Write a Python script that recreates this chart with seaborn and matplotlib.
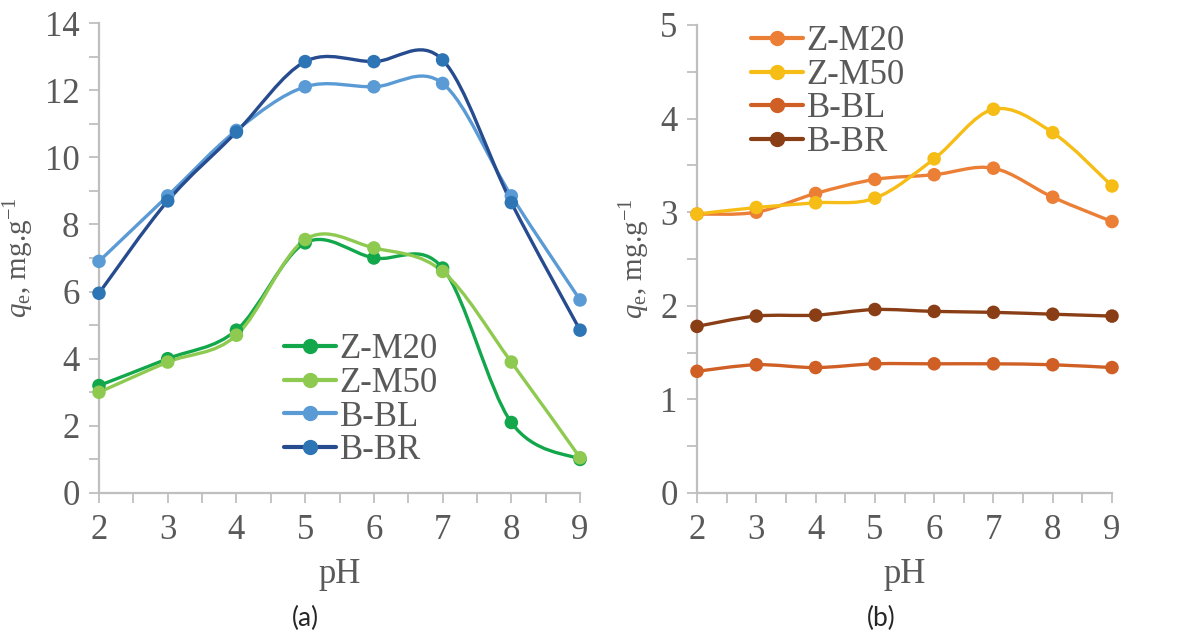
import numpy as np
import pandas as pd
import seaborn as sns
import matplotlib
matplotlib.use("Agg")
import matplotlib.pyplot as plt
from matplotlib.path import Path
from matplotlib.patches import PathPatch
from matplotlib.lines import Line2D
from matplotlib.ticker import MultipleLocator

# ---------------- data ----------------
ph = [2, 3, 4, 5, 6, 7, 8, 9]
series_names = ["Z-M20", "Z-M50", "B-BL", "B-BR"]

a_zm20 = [3.2, 4.0, 4.85, 7.45, 7.0, 6.7, 2.1, 1.0]
a_zm50 = [3.0, 3.9, 4.7, 7.55, 7.3, 6.6, 3.9, 1.05]
a_bbl = [6.9, 8.85, 10.8, 12.1, 12.1, 12.2, 8.85, 5.75]
a_bbr = [5.95, 8.7, 10.75, 12.85, 12.85, 12.9, 8.65, 4.85]

b_zm20 = [2.98, 3.0, 3.2, 3.35, 3.4, 3.47, 3.16, 2.9]
b_zm50 = [2.98, 3.05, 3.1, 3.15, 3.57, 4.1, 3.85, 3.28]
b_bbl = [1.3, 1.37, 1.34, 1.38, 1.38, 1.38, 1.37, 1.34]
b_bbr = [1.78, 1.89, 1.9, 1.96, 1.94, 1.93, 1.91, 1.89]

# line colour, marker colour
a_colors = [("#13a74b", "#13a74b"), ("#8fca50", "#8fca50"),
            ("#5b9bd5", "#5b9bd5"), ("#264b8f", "#2e75b6")]
b_colors = [("#eb7f36", "#eb7f36"), ("#f6bd16", "#f6bd16"),
            ("#cf5f25", "#cf5f25"), ("#8a3e15", "#8a3e15")]

sns.set_theme(style="white")
plt.rcParams["font.family"] = ["Liberation Serif", "DejaVu Serif"]
plt.rcParams["mathtext.fontset"] = "custom"
plt.rcParams["mathtext.rm"] = "Liberation Serif"
plt.rcParams["mathtext.it"] = "Liberation Serif:italic"

GRAY = "#595959"
SPINE = "#bfbfbf"
FS = 25


def smooth_path(xs, ys):
    P = np.column_stack([xs, ys]).astype(float)
    n = len(P)
    verts = [P[0]]
    codes = [Path.MOVETO]
    for i in range(n - 1):
        p0 = P[i - 1] if i > 0 else P[i]
        p1 = P[i]
        p2 = P[i + 1]
        p3 = P[i + 2] if i + 2 < n else P[i + 1]
        c1 = p1 + (p2 - p0) / 6.0
        c2 = p2 - (p3 - p1) / 6.0
        verts += [c1, c2, p2]
        codes += [Path.CURVE4] * 3
    return Path(verts, codes)


def panel(ax, data_lists, colors, ymax, ymajor, yminor, legend_anchor):
    df = pd.DataFrame({
        "pH": ph * len(series_names),
        "q": np.concatenate(data_lists),
        "series": np.repeat(series_names, len(ph)),
    })
    for name, vals, (lc, mc) in zip(series_names, data_lists, colors):
        patch = PathPatch(smooth_path(ph, vals), facecolor="none",
                          edgecolor=lc, lw=2.4, zorder=2, capstyle="round")
        ax.add_patch(patch)
    sns.scatterplot(data=df, x="pH", y="q", hue="series",
                    palette={n: c[1] for n, c in zip(series_names, colors)},
                    s=95, edgecolor="none", ax=ax, legend=False, zorder=3,
                    clip_on=False)
    ax.set_xlim(2, 9)
    ax.set_ylim(0, ymax)
    ax.xaxis.set_major_locator(MultipleLocator(1))
    ax.xaxis.set_minor_locator(MultipleLocator(0.5))
    ax.yaxis.set_major_locator(MultipleLocator(ymajor))
    ax.yaxis.set_minor_locator(MultipleLocator(yminor))
    for s in ["top", "right"]:
        ax.spines[s].set_visible(False)
    for s in ["left", "bottom"]:
        ax.spines[s].set_color(SPINE)
        ax.spines[s].set_linewidth(1.6)
    ax.tick_params(which="both", direction="out", color=SPINE, width=1.3,
                   length=7, labelcolor=GRAY, labelsize=FS,
                   bottom=True, left=True)
    ax.tick_params(axis="x", which="major", pad=8)
    ax.tick_params(axis="y", which="major", pad=7)
    ax.set_xlabel("pH", fontsize=FS, color=GRAY, labelpad=8)
    ax.set_ylabel(r"$q_{\mathrm{e}}$, mg.g$^{\mathrm{-1}}$", fontsize=21,
                  color=GRAY, labelpad=6)
    handles = [Line2D([], [], color=lc, lw=3, marker="o", ms=10,
                      markerfacecolor=mc, markeredgecolor=mc)
               for lc, mc in colors]
    ax.legend(handles, series_names, loc="upper left",
              bbox_to_anchor=legend_anchor, frameon=False, fontsize=FS,
              labelcolor=GRAY, handlelength=1.5, handletextpad=0.1,
              labelspacing=0.02, borderpad=0, borderaxespad=0)


fig = plt.figure(figsize=(11.84, 6.39), dpi=100)
ax1 = fig.add_axes([0.0836, 0.2285, 0.4063, 0.7355])
ax2 = fig.add_axes([0.5887, 0.2285, 0.3505, 0.7324])

panel(ax1, [a_zm20, a_zm50, a_bbl, a_bbr], a_colors, 14, 2, 1, (0.385, 0.34))
panel(ax2, [b_zm20, b_zm50, b_bbl, b_bbr], b_colors, 5, 1, 0.5, (0.13, 1.0))

fig.text(0.258, 0.02, "(a)", fontsize=19, family="Lato", ha="center")
fig.text(0.744, 0.02, "(b)", fontsize=19, family="Lato", ha="center")

fig.savefig("out.png", dpi=100)
